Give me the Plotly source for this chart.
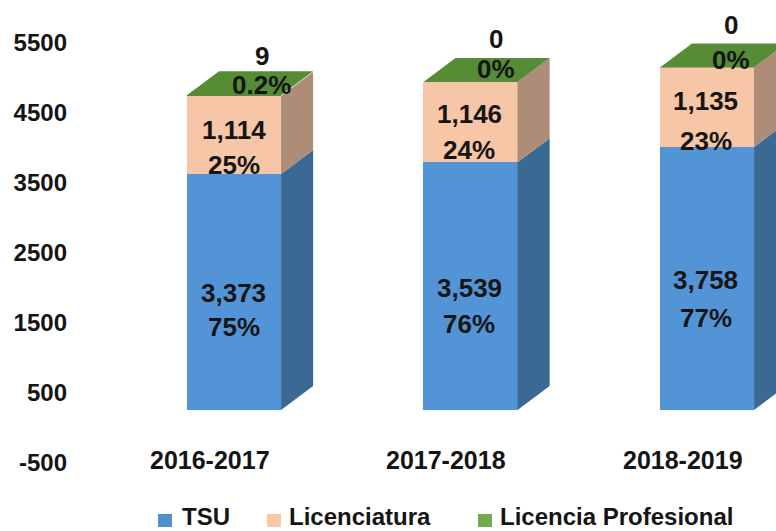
"""Stacked enrolment columns by school year, drawn with a fake 3D depth."""

import plotly.graph_objects as go

years = ["2016-2017", "2017-2018", "2018-2019"]
tsu = [3373, 3539, 3758]
licenciatura = [1114, 1146, 1135]
profesional = [9, 0, 0]
tsu_pct = ["75%", "76%", "77%"]
lic_pct = ["25%", "24%", "23%"]
prof_pct = ["0.2%", "0%", "0%"]
y_ticks = [-500, 500, 1500, 2500, 3500, 4500, 5500]
series_names = ["TSU", "Licenciatura", "Licencia Profesional"]

FONT = "Liberation Sans"
TEXT = "#151515"
BLUE, BLUE_SIDE = "#5394D6", "#3A6A94"
PEACH, PEACH_SIDE = "#F6C6A6", "#AD8C78"
GREEN, GREEN_SIDE = "#568C35", "#4A7A2E"
SWATCHES = ["#4F90D0", "#F8C9A6", "#72AB4C"]

# chart floor sits above the zero line, and the depth offset of the box
FLOOR = 257
BAR_W = 0.398
DEPTH_X = 0.1356
DEPTH_Y = 343

# pixel nudges for the labels, relative to segment middle / stack top
TSU_DY = [(1, 35), (2, 38), (2, 40)]
LIC_DY = [(-5, 30), (-8, 28), (-6, 34)]
TOP_DY = [(-39, -10), (-43, -13), (-42, -7)]
TOP_DX = [28, 26, 24]
LABEL_DX = [0, -1, -1]

# plot box in pixels, used to place the hand-built legend
PLOT_L, PLOT_W, PLOT_H = 70, 706, 463
LEGEND_SWATCH_X = [158, 267, 478]
LEGEND_TEXT_X = [180, 287, 498]

xs = list(range(len(years)))
base_tsu = [FLOOR] * len(xs)
base_lic = [b + v for b, v in zip(base_tsu, tsu)]
base_prof = [b + v for b, v in zip(base_lic, licenciatura)]
tops = [b + v for b, v in zip(base_prof, profesional)]

fig = go.Figure()


def add_side(x, y0, y1, color):
    right = x + BAR_W / 2
    fig.add_trace(go.Scatter(
        x=[right, right + DEPTH_X, right + DEPTH_X, right, right],
        y=[y0, y0 + DEPTH_Y, y1 + DEPTH_Y, y1, y0],
        mode="lines", fill="toself", fillcolor=color,
        line=dict(width=0), showlegend=False, hoverinfo="skip",
    ))


for i, x in enumerate(xs):
    add_side(x, base_tsu[i], base_lic[i], BLUE_SIDE)
    add_side(x, base_lic[i], base_prof[i], PEACH_SIDE)
    add_side(x, base_prof[i], tops[i], GREEN_SIDE)
    left, right = x - BAR_W / 2, x + BAR_W / 2
    fig.add_trace(go.Scatter(
        x=[left, right, right + DEPTH_X, left + DEPTH_X, left],
        y=[tops[i], tops[i], tops[i] + DEPTH_Y, tops[i] + DEPTH_Y, tops[i]],
        mode="lines", fill="toself", fillcolor=GREEN,
        line=dict(width=0), showlegend=False, hoverinfo="skip",
    ))

for name, vals, bases, color in [
    (series_names[0], tsu, base_tsu, BLUE),
    (series_names[1], licenciatura, base_lic, PEACH),
    (series_names[2], profesional, base_prof, GREEN),
]:
    fig.add_trace(go.Bar(
        x=xs, y=vals, base=bases, name=name, width=BAR_W, showlegend=False,
        marker=dict(color=color, line=dict(width=0)),
    ))


def label(x, y, text, dx, dy, size=26):
    fig.add_annotation(
        x=x, y=y, text=f"<b>{text}</b>", showarrow=False,
        xshift=dx, yshift=-dy, yanchor="middle",
        font=dict(family=FONT, size=size, color=TEXT),
    )


for i, x in enumerate(xs):
    mid = base_tsu[i] + tsu[i] / 2
    label(x, mid, f"{tsu[i]:,}", LABEL_DX[i], TSU_DY[i][0])
    label(x, mid, tsu_pct[i], LABEL_DX[i], TSU_DY[i][1])
    mid = base_lic[i] + licenciatura[i] / 2
    label(x, mid, f"{licenciatura[i]:,}", LABEL_DX[i], LIC_DY[i][0])
    label(x, mid, lic_pct[i], LABEL_DX[i], LIC_DY[i][1])
    label(x, tops[i], f"{profesional[i]:,}", TOP_DX[i], TOP_DY[i][0])
    label(x, tops[i], prof_pct[i], TOP_DX[i], TOP_DY[i][1])
    label(x, -457, years[i], -24, 0, size=25)

# legend drawn by hand so the entries land where the original has them
for name, sx, tx, color in zip(series_names, LEGEND_SWATCH_X, LEGEND_TEXT_X, SWATCHES):
    fig.add_shape(
        type="rect", xref="paper", yref="paper", line=dict(width=0), fillcolor=color,
        x0=(sx - PLOT_L) / PLOT_W, x1=(sx + 14 - PLOT_L) / PLOT_W,
        y0=(PLOT_H - 527) / PLOT_H, y1=(PLOT_H - 514) / PLOT_H,
    )
    fig.add_annotation(
        xref="paper", yref="paper", x=(tx - PLOT_L) / PLOT_W, y=(PLOT_H - 516) / PLOT_H,
        text=f"<b>{name}</b>", showarrow=False, xanchor="left", yanchor="middle",
        font=dict(family=FONT, size=24, color=TEXT),
    )

fig.update_layout(
    width=776, height=531,
    margin=dict(l=PLOT_L, r=0, t=0, b=68),
    paper_bgcolor="white", plot_bgcolor="white",
    barmode="overlay",
    bargap=0,
    showlegend=False,
    font=dict(family=FONT, color=TEXT),
    xaxis=dict(
        range=[-0.6934, 2.2918], showticklabels=False, showgrid=False,
        zeroline=False, showline=False, ticks="",
    ),
    yaxis=dict(
        range=[-500, 6114], tickvals=y_ticks,
        ticktext=[f"<b>{t}</b>" for t in y_ticks],
        tickfont=dict(family=FONT, size=24, color=TEXT),
        ticklabelstandoff=2,
        showgrid=False, zeroline=False, showline=False, ticks="",
    ),
)

fig.write_html(
    "out.html",
    config={"displayModeBar": False},
    post_script="document.body.style.margin = '0';",
)
